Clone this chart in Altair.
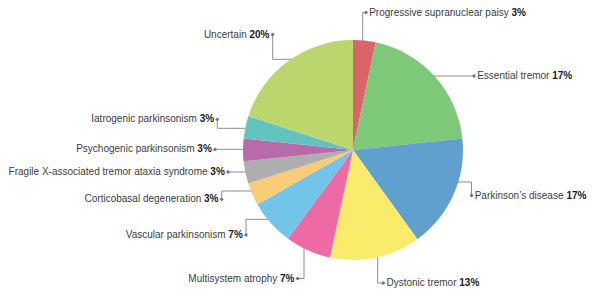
import math
import altair as alt
import pandas as pd

# ---- data ----
names = [
    "Progressive supranuclear paisy",
    "Essential tremor",
    "Parkinson\u2019s disease",
    "Dystonic tremor",
    "Multisystem atrophy",
    "Vascular parkinsonism",
    "Corticobasal degeneration",
    "Fragile X-associated tremor ataxia syndrome",
    "Psychogenic parkinsonism",
    "Iatrogenic parkinsonism",
    "Uncertain",
]
shares = [3.3, 20.0, 16.7, 13.3, 6.7, 6.7, 3.3, 3.3, 3.3, 3.3, 20.0]
pct_labels = ["3%", "17%", "17%", "13%", "7%", "7%", "3%", "3%", "3%", "3%", "20%"]
colors = ["#d9646b", "#7ec87a", "#5fa0cf", "#f9ec6a", "#ee6aa5", "#72c5e8",
          "#f9cc78", "#aeaeae", "#b86aaa", "#63c3bf", "#bad66c"]

# ---- layout (pixels in chart space; page = chart + 8) ----
W, H = 579, 281
CX, CY, R = 345, 142, 110
dots = [(358, 4.5), (466, 68), (463.5, 187.5), (375.3, 275), (289.7, 270.5),
        (238, 227), (213.7, 191.3), (220, 164), (207, 141.3), (209.3, 111.3),
        (264.7, 26.5)]
legs = [("v", 354.7), ("h", 68), ("h", 174), ("v", 369.7), ("v", 296),
        ("h", 211.3), ("h", 183), ("h", 164), ("h", 141.3), ("h", 120.3),
        ("h", 51.3)]
FONT = "Liberation Sans"
FS = 10
GAP = 3.2

REG = {" ": 278, "-": 333, "\u2019": 222, "'": 191, "%": 889}
REG.update({c: 556 for c in "0123456789"})
REG.update(dict(zip("ABCDEFGHIJKLMNOPQRSTUVWXYZ",
                    [667, 667, 722, 722, 667, 611, 778, 722, 278, 500, 667, 556, 833,
                     722, 778, 667, 778, 722, 667, 611, 722, 667, 944, 667, 667, 611])))
REG.update(dict(zip("abcdefghijklmnopqrstuvwxyz",
                    [556, 556, 500, 556, 556, 278, 556, 556, 222, 222, 500, 222, 833,
                     556, 556, 556, 556, 333, 500, 278, 556, 500, 722, 500, 500, 500])))


def text_w(s):
    return sum(REG.get(c, 556) for c in s) * FS / 1000.0


space_w = 278 * FS / 1000.0

line_rows, dot_rows, txt_l, txt_r = [], [], [], []
for i, (nm, pc) in enumerate(zip(names, pct_labels)):
    dx, dy = dots[i]
    kind, c = legs[i]
    r = R - 1
    if kind == "h":
        side = 1 if dx > CX else -1
        sx = CX + side * math.sqrt(max(r * r - (c - CY) ** 2, 0))
        pts = [(sx, c), (dx, c), (dx, dy)]
    else:
        side = 1 if dy > CY else -1
        sy = CY + side * math.sqrt(max(r * r - (c - CX) ** 2, 0))
        pts = [(c, sy), (c, dy), (dx, dy)]
    for k, (px, py) in enumerate(pts):
        line_rows.append({"id": i, "k": k, "x": px, "y": py})
    dot_rows.append({"id": i, "x": dx, "y": dy})
    if dx < CX:
        px_ = dx - GAP
        nx_ = px_ - text_w(pc) - space_w
        txt_l.append({"name": nm, "pct": pc, "nx": nx_, "px": px_, "y": dy})
    else:
        nx_ = dx + GAP
        px_ = nx_ + text_w(nm) + space_w
        txt_r.append({"name": nm, "pct": pc, "nx": nx_, "px": px_, "y": dy})

slices = pd.DataFrame({"name": names, "share": shares, "idx": list(range(len(names)))})
lines_df = pd.DataFrame(line_rows)
dots_df = pd.DataFrame(dot_rows)
tl = pd.DataFrame(txt_l)
tr = pd.DataFrame(txt_r)

xs = alt.Scale(domain=[0, W], nice=False, zero=False)
ys = alt.Scale(domain=[H, 0], nice=False, zero=False)


def X(f):
    return alt.X(f, type="quantitative", scale=xs, axis=None)


def Y(f):
    return alt.Y(f, type="quantitative", scale=ys, axis=None)


lines = alt.Chart(lines_df).mark_line(color="#8c8c8c", strokeWidth=1).encode(
    x=X("x"), y=Y("y"), detail="id:N", order=alt.Order("k:Q"))

pie = alt.Chart(slices).mark_arc(outerRadius=R).encode(
    theta=alt.Theta("share:Q", stack=True),
    order=alt.Order("idx:Q", sort="ascending"),
    color=alt.Color("name:N", scale=alt.Scale(domain=names, range=colors), legend=None),
    x=alt.value(CX), y=alt.value(CY))

dotl = alt.Chart(dots_df).mark_circle(size=11, color="#777777", opacity=1).encode(
    x=X("x"), y=Y("y"))

name_l = alt.Chart(tl).mark_text(align="right", baseline="middle", font=FONT,
                                 fontSize=FS, color="#3d3d3d").encode(
    x=X("nx"), y=Y("y"), text="name:N")
pct_l = alt.Chart(tl).mark_text(align="right", baseline="middle", font=FONT,
                                fontSize=FS, fontWeight="bold", color="#1a1a1a").encode(
    x=X("px"), y=Y("y"), text="pct:N")
name_r = alt.Chart(tr).mark_text(align="left", baseline="middle", font=FONT,
                                 fontSize=FS, color="#3d3d3d").encode(
    x=X("nx"), y=Y("y"), text="name:N")
pct_r = alt.Chart(tr).mark_text(align="left", baseline="middle", font=FONT,
                                fontSize=FS, fontWeight="bold", color="#1a1a1a").encode(
    x=X("px"), y=Y("y"), text="pct:N")

chart = alt.layer(lines, pie, dotl, name_l, pct_l, name_r, pct_r).properties(
    width=W, height=H, padding=0, autosize=alt.AutoSizeParams(type="none"),
    background="white").configure_view(stroke=None)

chart.save("out.html", embed_options={"renderer": "svg", "actions": False})
